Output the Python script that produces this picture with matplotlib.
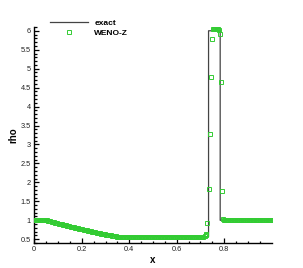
import numpy as np
import matplotlib
matplotlib.use("Agg")
import matplotlib.pyplot as plt
from matplotlib.ticker import FixedLocator, FormatStrFormatter

plt.rcParams['font.family'] = ['Liberation Sans', 'DejaVu Sans']

# ---- exact solution (breakpoints) ----
exact_x = [0.0, 0.052, 0.10, 0.15, 0.20, 0.25, 0.30, 0.348, 0.734, 0.734, 0.783, 0.783, 1.0]
exact_rho = [1.0, 1.0, 0.916, 0.836, 0.760, 0.691, 0.628, 0.570, 0.570, 6.0, 6.0, 1.0, 1.0]

# ---- WENO-Z numerical solution ----
# smooth left part on cells of width 0.005 (cell centres 0.0025 ... 0.7125)
weno_left_x = np.arange(0.0025, 0.7150, 0.005)
weno_left_rho = (
    [1.0] * 10 +
    [0.999, 0.990, 0.981, 0.973, 0.964, 0.956, 0.947, 0.938, 0.930, 0.921,
     0.913, 0.905, 0.897, 0.889, 0.881, 0.873, 0.864, 0.856, 0.848, 0.840,
     0.832, 0.825, 0.817, 0.810, 0.802, 0.795, 0.787, 0.780, 0.772, 0.765,
     0.758, 0.751, 0.744, 0.737, 0.730, 0.723, 0.716, 0.709, 0.702, 0.695,
     0.688, 0.682, 0.675, 0.669, 0.662, 0.656, 0.650, 0.643, 0.637, 0.630,
     0.624, 0.618, 0.612, 0.606, 0.600, 0.594, 0.588, 0.582, 0.576, 0.571] +
    [0.570] * 73
)
# points through the contact / shock region
weno_mid_x = [0.7175, 0.7215, 0.7245, 0.7295, 0.734, 0.738, 0.7445, 0.7495,
              0.754, 0.758, 0.762, 0.766, 0.770, 0.774, 0.778, 0.7805,
              0.7855, 0.7895, 0.7955, 0.800]
weno_mid_rho = [0.58, 0.60, 0.65, 0.92, 1.82, 3.28, 4.79, 5.77,
                6.05, 6.07, 6.07, 6.06, 6.05, 6.04, 6.02, 5.92,
                4.65, 1.77, 1.03, 1.01]
# right undisturbed state (cell centres 0.8025 ... 0.9975)
weno_right_x = np.arange(0.8025, 1.0, 0.005)
weno_right_rho = [1.0] * 40

weno_x = np.concatenate([weno_left_x, weno_mid_x, weno_right_x])
weno_rho = np.concatenate([weno_left_rho, weno_mid_rho, weno_right_rho])

x_major = [0, 0.2, 0.4, 0.6, 0.8]
x_minor = [0.05, 0.1, 0.15, 0.25, 0.3, 0.35, 0.45, 0.5, 0.55, 0.65, 0.7, 0.75, 0.85, 0.9, 0.95]
y_major = [0.5, 1, 1.5, 2, 2.5, 3, 3.5, 4, 4.5, 5, 5.5, 6]
y_minor = [v / 10 for v in range(4, 62) if v % 5 != 0]

fig = plt.figure(figsize=(3.03, 2.68), dpi=100)
ax = fig.add_axes([0.1132, 0.0933, 0.7835, 0.806])

line_exact, = ax.plot(exact_x, exact_rho, color='#444444', lw=0.9, zorder=2, label='exact')
pts, = ax.plot(weno_x, weno_rho, ls='none', marker='s', ms=2.2, mfc='none',
               mec='#33cc33', mew=0.7, zorder=3, label='WENO-Z')

ax.set_xlim(0, 1.0)
ax.set_ylim(0.4, 6.1)
for s in ['top', 'right']:
    ax.spines[s].set_visible(False)
for s in ['left', 'bottom']:
    ax.spines[s].set_linewidth(1.0)

ax.xaxis.set_major_locator(FixedLocator(x_major))
ax.xaxis.set_minor_locator(FixedLocator(x_minor))
ax.yaxis.set_major_locator(FixedLocator(y_major))
ax.yaxis.set_minor_locator(FixedLocator(y_minor))
ax.xaxis.set_major_formatter(FormatStrFormatter('%g'))
ax.yaxis.set_major_formatter(FormatStrFormatter('%g'))
ax.tick_params(which='both', direction='in', top=False, right=False, width=0.9,
               labelsize=5.3, labelcolor='#222222')
ax.tick_params(which='major', length=3.4, pad=2.4)
ax.tick_params(which='minor', length=1.8)

ax.set_xlabel('x', fontsize=7, fontweight='bold', labelpad=1)
ax.set_ylabel('rho', fontsize=7, fontweight='bold', labelpad=2)

fig.legend(handles=[line_exact, pts], loc='upper left',
           bbox_to_anchor=(50 / 303, 1 - 19 / 268), frameon=False,
           prop={'size': 6, 'weight': 'bold'}, handlelength=4.6,
           handletextpad=0.7, labelspacing=0.3, numpoints=1,
           borderpad=0, borderaxespad=0)

fig.savefig('out.png', dpi=100)
